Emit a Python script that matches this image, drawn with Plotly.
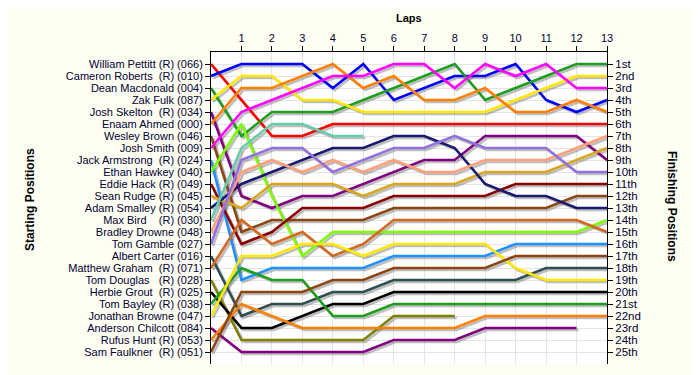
import plotly.graph_objects as go

# ---------------- data ----------------
laps = list(range(14))
lap_ticks = list(range(1, 14))
position_ticks = list(range(1, 26))

start_labels = [
    "William Pettitt (R) (066)",
    "Cameron Roberts\u00a0 (R) (010)",
    "Dean Macdonald (004)",
    "Zak Fulk (087)",
    "Josh Skelton\u00a0 (R) (034)",
    "Enaam Ahmed (000)",
    "Wesley Brown (046)",
    "Josh Smith (009)",
    "Jack Armstrong\u00a0 (R) (024)",
    "Ethan Hawkey (040)",
    "Eddie Hack (R) (049)",
    "Sean Rudge (R) (045)",
    "Adam Smalley (R) (054)",
    "Max Bird\u00a0\u00a0\u00a0 (R) (030)",
    "Bradley Drowne (048)",
    "Tom Gamble (027)",
    "Albert Carter (016)",
    "Matthew Graham\u00a0 (R) (071)",
    "Tom Douglas\u00a0\u00a0 (R) (028)",
    "Herbie Grout\u00a0 (R) (025)",
    "Tom Bayley (R) (038)",
    "Jonathan Browne (047)",
    "Anderson Chilcott (084)",
    "Rufus Hunt (R) (053)",
    "Sam Faulkner\u00a0 (R) (051)",
]

finish_labels = ["1st", "2nd", "3rd"] + [f"{n}th" for n in range(4, 21)] + ["21st", "22nd", "23rd", "24th", "25th"]

# running position at end of each lap (lap 0 = start)
pettitt = [1, 4, 7, 7, 6, 6, 6, 6, 6, 6, 6, 6, 6, 6]
roberts = [2, 1, 1, 1, 3, 1, 4, 3, 2, 2, 1, 4, 5, 4]
macdonald = [3, 7, 5, 5, 5, 4, 3, 2, 1, 4, 3, 2, 1, 1]
fulk = [4, 2, 2, 4, 4, 5, 5, 5, 5, 5, 4, 3, 2, 2]
skelton = [5, 12, 13, 12, 12, 11, 10, 9, 9, 7, 7, 7, 7, 9]
ahmed = [6, 3, 3, 2, 1, 3, 2, 4, 4, 3, 5, 5, 4, 5]
wbrown = [7, 15, 14, 14, 14, 14, 13, 13, 13, 13, 13, 13, 12, 12]
smith = [8, 5, 4, 3, 2, 2, 1, 1, 3, 1, 2, 1, 3, 3]
armstrong = [9, 19, 18, 18, 18, 18, 17, 17, 17, 17, 16, 16, 16, 16]
hawkey = [10, 6, 12, 17, 15, 15, 15, 15, 15, 15, 15, 15, 15, 14]
hack = [11, 16, 15, 13, 13, 13, 12, 12, 12, 12, 11, 11, 11, 11]
rudge = [12, 13, 11, 11, 11, 12, 11, 11, 11, 10, 10, 10, 9, 8]
smalley = [13, 11, 10, 9, 8, 8, 7, 7, 8, 11, 12, 12, 13, 13]
bird = [14, 8, 6, 6, 7, 7, None, None, None, None, None, None, None, None]
drowne = [15, 10, 9, 10, 9, 10, 9, 10, 10, 9, 9, 9, 8, 7]
gamble = [16, 9, 8, 8, 10, 9, 8, 8, 7, 8, 8, 8, 10, 10]
carter = [17, 22, 21, 21, 20, 20, 19, 19, 19, 19, 19, 18, 18, 18]
graham = [18, 14, 16, 15, 17, 16, 14, 14, 14, 14, 14, 14, 14, 15]
douglas = [19, 24, 24, 24, 24, 24, 22, 22, 22, None, None, None, None, None]
grout = [20, 23, 23, 22, 21, 21, 20, 20, 20, 20, 20, 20, 20, 20]
bayley = [21, 18, 19, 19, 22, 22, 21, 21, 21, 21, 21, 21, 21, 21]
jbrowne = [22, 17, 17, 16, 16, 17, 16, 16, 16, 16, 18, 19, 19, 19]
chilcott = [23, 25, 25, 25, 25, 25, 24, 24, 24, 23, 23, 23, 23, None]
hunt = [24, 21, 22, 23, 23, 23, 23, 23, 23, 22, 22, 22, 22, 22]
faulkner = [25, 20, 20, 20, 19, 19, 18, 18, 18, 18, 17, 17, 17, 17]

series = [pettitt, roberts, macdonald, fulk, skelton, ahmed, wbrown, smith,
          armstrong, hawkey, hack, rudge, smalley, bird, drowne, gamble,
          carter, graham, douglas, grout, bayley, jbrowne, chilcott, hunt, faulkner]

# ---------------- styles ----------------
colors = ["#FF0000", "#0000FF", "#1E9E1E", "#FFE800", "#800080", "#FF8000",
          "#8B4513", "#FF00FF", "#1E90FF", "#7CFC00", "#8B0000", "#DAA520",
          "#191970", "#66CDAA", "#FFA07A", "#9370DB", "#2F4F4F", "#D2691E",
          "#808000", "#000000", "#1E9E1E", "#FFE800", "#800080", "#FF8000",
          "#8B4513"]

W, H = 700, 375
OFF = 8  # page body margin offset
ML, MT = 211 - OFF, 52 - OFF
PLOT_W, PLOT_H = 396, 312
MR = W - ML - PLOT_W
MB = H - MT - PLOT_H
YMAX = 26
shadow_px = 2
dx = shadow_px * 13 / PLOT_W
dy = shadow_px * YMAX / PLOT_H


def px_x(px):
    return (px - OFF - ML) / PLOT_W


def px_y(py):
    return (MT + PLOT_H - (py - OFF)) / PLOT_H


fig = go.Figure()

# shadows (base axes, shifted)
for s in series:
    fig.add_trace(go.Scatter(x=laps, y=s, mode="lines", xaxis="x", yaxis="y",
                             line=dict(color="rgba(110,110,110,0.45)", width=2.6),
                             hoverinfo="skip", showlegend=False, connectgaps=False))

# main lines
for s, c, name in zip(series, colors, start_labels):
    fig.add_trace(go.Scatter(x=laps, y=s, mode="lines", xaxis="x2", yaxis="y2",
                             line=dict(color=c, width=2.6), name=name,
                             showlegend=False, connectgaps=False))

# right axis carrier
fig.add_trace(go.Scatter(x=laps, y=pettitt, mode="lines", xaxis="x2", yaxis="y3",
                         line=dict(color="rgba(0,0,0,0)", width=0),
                         hoverinfo="skip", showlegend=False))

font_fam = "Liberation Sans, Arial, sans-serif"
grid = "#E4E4E4"

fig.update_layout(
    width=W, height=H,
    margin=dict(l=ML, r=MR, t=MT, b=MB, pad=0, autoexpand=False),
    paper_bgcolor="#FFFEF3",
    plot_bgcolor="#FFFFFF",
    font=dict(family=font_fam, size=11, color="#000033"),
    xaxis=dict(range=[-dx, 13 - dx], visible=False, showgrid=False, zeroline=False, automargin=False),
    yaxis=dict(range=[YMAX - dy, -dy], visible=False, showgrid=False, zeroline=False, automargin=False),
    xaxis2=dict(overlaying="x", side="top", anchor="y2", range=[0, 13],
                tickvals=lap_ticks, ticks="outside", ticklen=5, tickcolor="black",
                showline=True, linecolor="black", linewidth=1, automargin=False,
                showgrid=True, gridcolor=grid, zeroline=False,
                tickfont=dict(size=11, color="#000033")),
    yaxis2=dict(overlaying="y", side="left", anchor="x2", range=[YMAX, 0],
                tickvals=position_ticks, ticktext=start_labels, automargin=False,
                ticks="outside", ticklen=5, tickcolor="black",
                showline=True, linecolor="black", linewidth=1,
                showgrid=True, gridcolor=grid, zeroline=False,
                tickfont=dict(size=11, color="#000033")),
    yaxis3=dict(overlaying="y", side="right", anchor="x2", range=[YMAX, 0],
                tickvals=position_ticks, ticktext=finish_labels, automargin=False,
                ticks="outside", ticklen=5, tickcolor="black",
                showline=True, linecolor="black", linewidth=1,
                showgrid=False, zeroline=False,
                tickfont=dict(size=11.5, color="#000033")),
    annotations=[
        dict(text="<b>Laps</b>", xref="paper", yref="paper", x=0.5, y=px_y(18),
             showarrow=False, font=dict(size=11, color="#000000"), xanchor="center", yanchor="middle"),
        dict(text="<b>Starting Positions</b>", xref="paper", yref="paper",
             x=px_x(30), y=px_y(200), textangle=-90,
             showarrow=False, font=dict(size=12, color="#000000"), xanchor="center", yanchor="middle"),
        dict(text="<b>Finishing Positions</b>", xref="paper", yref="paper",
             x=px_x(672), y=px_y(206), textangle=90,
             showarrow=False, font=dict(size=12, color="#000000"), xanchor="center", yanchor="middle"),
    ],
)

fig.write_html("out.html")
